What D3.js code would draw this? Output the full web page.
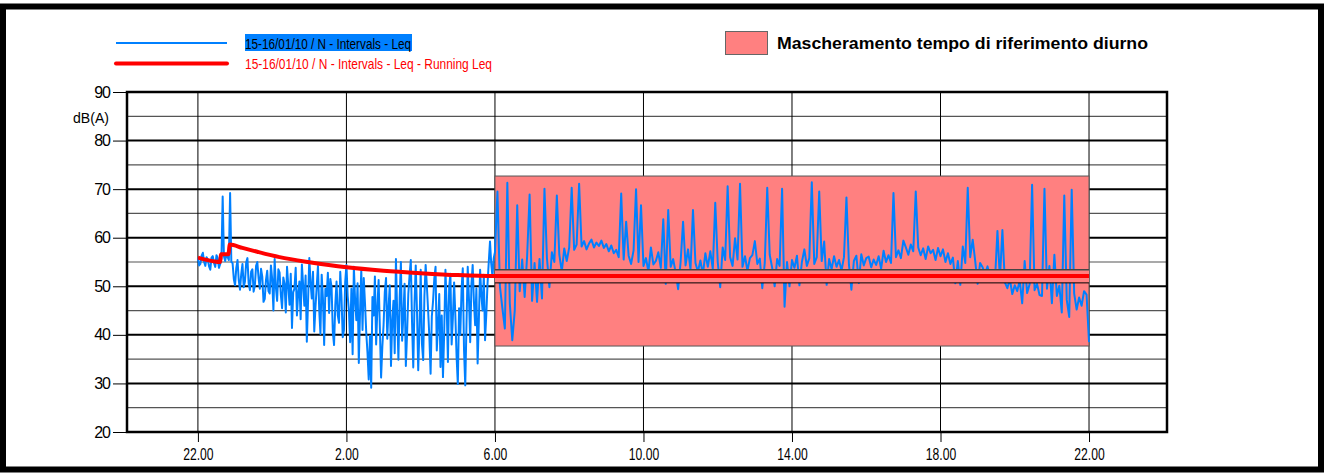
<!DOCTYPE html>
<html><head><meta charset="utf-8">
<script src="https://cdn.jsdelivr.net/npm/d3@7"></script>
<style>html,body{margin:0;padding:0;background:#fff}svg{display:block;font-family:"Liberation Sans",Arial,sans-serif}</style>
</head><body><svg id="c" width="1325" height="474"></svg>
<script>
// ---------- DATA ----------
const seriesName = "15-16/01/10 / N - Intervals - Leq";
const runningName = "15-16/01/10 / N - Intervals - Leq - Running Leq";
const maskName = "Mascheramento tempo di riferimento diurno";
const yLabel = "dB(A)";
const xTickHours = [0, 4, 8, 12, 16, 20, 24];
const xTickLabels = ["22.00", "2.00", "6.00", "10.00", "14.00", "18.00", "22.00"];
const yTicks = [20, 30, 40, 50, 60, 70, 80, 90];
const yMinorTicks = [25, 35, 45, 55, 65, 75, 85];

// night: 2-minute samples from 22.00 to 6.00
const nightStartHour = 0, nightStepMin = 2;
const leqNightA = [55.8,54.3,54.6,56.3,56.9,55.0,54.2,56.0,55.5,54.1,
  53.4,55.9,56.2,54.8,54.0,56.4,55.8,53.8,54.6,55.7,
  68.5,56.2,55.2,56.6,56.0,55.4,69.2,55.0,54.8,51.5,
  50.2,53.8,55.4,51.2,49.3,52.5,54.6,49.8,51.0,54.9,
  55.8,50.6,49.2,53.0,53.5,48.9,50.1,54.2,55.0,51.7,
  49.5,53.6,52.0,46.8,47.4,51.3,53.2,49.0,48.5,54.3,
  51.5,45.0,55.6,49.8,47.0,53.5,52.8,48.2,45.5,51.8,
  50.5,44.6,54.0,50.2,46.2,52.6,41.4,48.8,49.5,53.8,
  44.0,48.6,51.0,43.2,54.5,50.3,46.0,52.2,38.6,47.0,
  55.8,50.8,47.5,53.0,40.7,45.8,50.0,54.2,45.2,40.2,
  52.4,47.6,37.9,49.5,48.0,52.8,44.5,51.5,49.8,40.6,
  37.9,46.2,51.0,44.0,42.5,53.0,47.8,39.5,41.0,50.8];
const leqNightB = [54.4,48.0,45.0,38.5,49.5,36.0,54.0,47.2,43.0,50.6,
  34.2,44.8,53.4,41.0,51.7,46.5,40.5,36.4,30.8,39.8,
  29.1,47.8,44.0,52.0,38.0,45.6,51.3,41.5,31.2,37.5,
  42.0,48.8,51.7,39.2,45.5,50.2,33.6,42.8,47.0,36.2,
  55.6,44.5,34.9,47.6,55.0,38.8,44.0,50.5,33.6,40.2,
  48.5,52.2,55.4,42.6,33.3,46.4,54.3,45.0,32.7,41.5,
  53.4,38.2,34.8,47.9,54.4,50.0,45.0,39.6,32.0,43.8,
  47.0,51.6,54.0,36.8,42.0,48.4,33.4,44.0,31.3,40.5,
  53.4,46.0,34.4,49.8,52.6,38.0,43.5,50.8,44.0,35.5,
  29.9,45.5,40.0,49.2,53.7,37.0,29.6,42.2,54.0,47.5,
  38.5,50.4,54.4,46.8,42.0,49.6,34.1,43.0,53.4,48.2,
  45.0,52.4,38.9,44.2,50.5,55.0,59.2,54.6,52.0,55.8];

// day: 4-minute samples from 6.00 to 22.00
const dayStartHour = 8, dayStepMin = 4;
const leqDayC = [57.0,69.5,50.0,45.5,41.3,71.3,46.5,38.9,45.0,66.7,
  49.0,55.5,47.8,56.2,68.9,47.0,54.8,46.8,55.6,47.5,
  70.1,55.8,49.8,57.0,55.0,68.7,56.5,53.0,57.8,55.2,
  58.0,70.3,57.5,58.6,71.1,58.2,59.3,57.6,58.8,59.6,
  58.0,59.0,58.3,59.4,57.9,58.7,57.2,58.4,56.8,57.5,
  56.0,69.1,55.5,63.3,56.3,54.6,57.4,70.0,55.0,66.7];
const leqDayD = [54.2,55.8,53.0,58.0,54.5,55.2,57.0,53.8,63.8,50.5,
  65.7,54.0,55.6,52.8,49.4,55.0,63.3,54.3,57.6,53.5,
  65.7,54.8,53.0,55.3,52.4,56.8,54.0,57.2,53.6,67.2,
  55.0,49.8,58.0,55.4,70.6,56.0,54.2,59.9,55.5,71.1,
  54.0,56.2,53.2,55.8,56.4,59.3,54.6,55.7,49.6,54.8,
  70.3,56.5,53.8,50.0,55.6,54.2,70.1,45.8,55.0,50.0];
const leqDayE = [55.4,53.8,56.3,50.2,55.0,57.6,54.2,55.8,71.4,54.6,
  56.0,69.5,55.2,59.2,50.3,55.6,53.5,56.2,54.0,55.4,
  53.2,56.0,68.3,54.5,49.3,55.2,56.3,50.7,56.6,54.3,
  55.8,56.1,53.9,55.5,54.4,56.2,53.6,57.3,55.0,56.4,
  54.8,69.2,56.0,57.4,55.8,59.4,58.0,56.5,58.6,57.2,
  69.5,58.0,56.4,57.8,55.6,58.2,56.8,57.5,55.4,57.9];
const leqDayF = [56.2,57.6,55.0,56.8,54.6,55.9,50.6,55.2,50.3,58.2,
  54.8,70.3,56.0,59.6,55.3,50.5,54.8,53.9,52.5,54.1,
  51.8,52.6,51.2,61.4,51.5,61.6,50.8,49.6,51.5,48.4,
  50.2,49.0,51.2,46.5,55.2,48.6,50.4,70.9,49.2,50.5,
  48.2,48.0,70.1,49.5,54.2,46.5,56.5,48.0,50.1,44.6,
  68.7,47.2,43.7,69.9,48.5,45.2,47.7,46.0,49.0,48.3,
  38.5];

const runHours = [0, 0.2, 0.45, 0.6, 0.62, 0.82, 0.86, 1.2, 1.6, 2.2, 3.0, 4.0, 5.0, 6.0, 7.0, 8.0, 24];
const runLeq   = [55.9, 55.5, 55.1, 55.0, 56.6, 56.6, 58.6, 57.9, 57.1, 56.0, 54.95, 53.9, 53.2, 52.7, 52.3, 52.1, 52.1];

const maskHours = [8, 24];      // 6.00 -> 22.00
const maskLevels = [37.7, 72.7];
const bandLevels = [50.7, 53.4];

// ---------- LAYOUT ----------
const plot = {left: 127, right: 1167, top: 92, bottom: 432};
const blue = "#0080ff", red = "#ff0000", pink = "#ff8080";

const svg = d3.select("#c");
const x = d3.scaleLinear().domain([-1.91, 26.1]).range([plot.left, plot.right]);
const y = d3.scaleLinear().domain([20, 90]).range([plot.bottom, plot.top]);

const night = [].concat(leqNightA, leqNightB).map((v, i) => ({h: nightStartHour + i * nightStepMin / 60, v}));
const day = [].concat(leqDayC, leqDayD, leqDayE, leqDayF).map((v, i) => ({h: dayStartHour + i * dayStepMin / 60, v}));
const leq = night.concat(day);
const run = runHours.map((h, i) => ({h, v: runLeq[i]}));

// outer frame
svg.append("rect").attr("x", 3).attr("y", 6.5).attr("width", 1318).attr("height", 463)
  .attr("fill", "none").attr("stroke", "#000").attr("stroke-width", 6);

svg.append("defs").append("clipPath").attr("id", "clip").append("rect")
  .attr("x", plot.left).attr("y", plot.top).attr("width", plot.right - plot.left).attr("height", plot.bottom - plot.top);

// grid
const g = svg.append("g");
g.selectAll(".minor").data(yMinorTicks).join("line")
  .attr("x1", plot.left).attr("x2", plot.right).attr("y1", d => y(d)).attr("y2", d => y(d))
  .attr("stroke", "#555").attr("stroke-width", 1.2);
g.selectAll(".major").data(yTicks).join("line")
  .attr("x1", plot.left).attr("x2", plot.right).attr("y1", d => y(d)).attr("y2", d => y(d))
  .attr("stroke", "#000").attr("stroke-width", 2);
g.selectAll(".vg").data(xTickHours).join("line")
  .attr("x1", d => x(d)).attr("x2", d => x(d)).attr("y1", plot.top).attr("y2", plot.bottom)
  .attr("stroke", "#000").attr("stroke-width", 1);

// mask rect
svg.append("rect")
  .attr("x", x(maskHours[0])).attr("width", x(maskHours[1]) - x(maskHours[0]))
  .attr("y", y(maskLevels[1])).attr("height", y(maskLevels[0]) - y(maskLevels[1]))
  .attr("fill", pink).attr("stroke", "#555").attr("stroke-width", 1);

// blue series
const line = d3.line().x(d => x(d.h)).y(d => y(d.v));
svg.append("path").datum(leq).attr("clip-path", "url(#clip)")
  .attr("d", line).attr("fill", "none").attr("stroke", blue).attr("stroke-width", 2)
  .attr("stroke-linejoin", "round");

// band over the series
const bx0 = x(maskHours[0]), bx1 = x(maskHours[1]);
svg.append("rect").attr("x", bx0).attr("width", bx1 - bx0)
  .attr("y", y(bandLevels[1])).attr("height", y(bandLevels[0]) - y(bandLevels[1]))
  .attr("fill", pink);
svg.append("line").attr("x1", bx0).attr("x2", bx1).attr("y1", y(bandLevels[1])).attr("y2", y(bandLevels[1]))
  .attr("stroke", "#444").attr("stroke-width", 1.5);
svg.append("line").attr("x1", bx0).attr("x2", bx1).attr("y1", y(bandLevels[0])).attr("y2", y(bandLevels[0]))
  .attr("stroke", "#000").attr("stroke-width", 1);

// running Leq
svg.append("path").datum(run)
  .attr("d", d3.line().x(d => x(d.h)).y(d => y(d.v)).curve(d3.curveMonotoneX))
  .attr("fill", "none").attr("stroke", red).attr("stroke-width", 4);

// plot border
svg.append("rect").attr("x", plot.left).attr("y", plot.top)
  .attr("width", plot.right - plot.left).attr("height", plot.bottom - plot.top)
  .attr("fill", "none").attr("stroke", "#000").attr("stroke-width", 2.5);

// y axis
const ya = svg.append("g").attr("transform", `translate(${plot.left},0)`)
  .call(d3.axisLeft(y).tickValues(yTicks).tickSize(14).tickPadding(3));
ya.select(".domain").remove();
ya.selectAll("line").attr("stroke", "#000");
ya.selectAll("text").attr("font-size", 16).attr("letter-spacing", -1).attr("fill", "#000")
  .attr("font-family", "Liberation Sans, Arial, sans-serif");
svg.append("text").attr("x", 73).attr("y", 123)
  .attr("font-size", 15).attr("textLength", 36).attr("lengthAdjust", "spacingAndGlyphs").text(yLabel);

// x axis
const xa = svg.append("g").attr("transform", `translate(0,${plot.bottom})`)
  .call(d3.axisBottom(x).tickValues(xTickHours).tickFormat((d, i) => xTickLabels[i]).tickSize(10).tickPadding(7));
xa.select(".domain").remove();
xa.selectAll("line").attr("stroke", "#000");
xa.selectAll("text").attr("font-size", 16).attr("fill", "#000").attr("transform", "scale(0.76,1)")
  .attr("font-family", "Liberation Sans, Arial, sans-serif");

// legend left
const lg = svg.append("g");
lg.append("line").attr("x1", 116).attr("x2", 227).attr("y1", 43).attr("y2", 43)
  .attr("stroke", blue).attr("stroke-width", 2);
lg.append("rect").attr("x", 245).attr("y", 34).attr("width", 167).attr("height", 17).attr("fill", blue);
lg.append("text").attr("x", 245).attr("y", 48.5).attr("font-size", 15)
  .attr("textLength", 166).attr("lengthAdjust", "spacingAndGlyphs")
  .attr("fill", "#000").text(seriesName);
lg.append("line").attr("x1", 116).attr("x2", 227).attr("y1", 63.5).attr("y2", 63.5)
  .attr("stroke", red).attr("stroke-width", 4).attr("stroke-linecap", "round");
lg.append("text").attr("x", 245).attr("y", 68.5).attr("font-size", 15)
  .attr("textLength", 247).attr("lengthAdjust", "spacingAndGlyphs")
  .attr("fill", red).text(runningName);

// legend right
svg.append("rect").attr("x", 725.5).attr("y", 31.5).attr("width", 42).attr("height", 23)
  .attr("fill", pink).attr("stroke", "#666").attr("stroke-width", 1);
svg.append("text").attr("x", 777).attr("y", 49).attr("font-size", 17).attr("font-weight", "bold")
  .attr("textLength", 371).attr("lengthAdjust", "spacingAndGlyphs")
  .attr("fill", "#000").text(maskName);
</script></body></html>
